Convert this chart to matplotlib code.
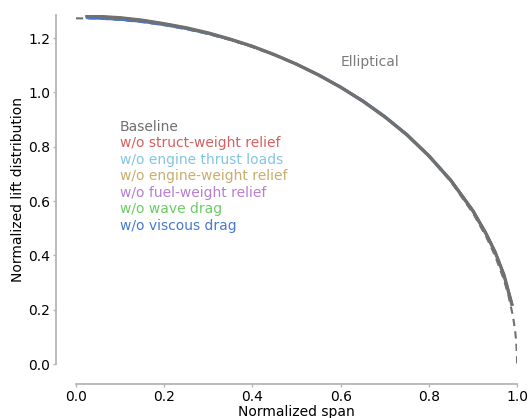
import matplotlib
matplotlib.use("Agg")
import matplotlib.pyplot as plt

# ---- data ----
span = [0.025, 0.05, 0.1, 0.15, 0.2, 0.25, 0.3, 0.35, 0.4, 0.45, 0.5, 0.55,
        0.6, 0.65, 0.7, 0.75, 0.8, 0.85, 0.9, 0.93, 0.95, 0.97, 0.988]

baseline = [1.282, 1.280, 1.275, 1.266, 1.253, 1.238, 1.219, 1.196, 1.170, 1.139, 1.104, 1.064,
            1.019, 0.968, 0.910, 0.844, 0.766, 0.675, 0.563, 0.478, 0.412, 0.328, 0.220]
no_struct = [1.281, 1.279, 1.274, 1.265, 1.252, 1.237, 1.218, 1.195, 1.169, 1.139, 1.104, 1.064,
             1.020, 0.969, 0.911, 0.845, 0.767, 0.676, 0.564, 0.479, 0.413, 0.329, 0.222]
no_thrust = [1.282, 1.280, 1.275, 1.266, 1.253, 1.238, 1.219, 1.196, 1.170, 1.139, 1.104, 1.064,
             1.019, 0.968, 0.910, 0.844, 0.766, 0.675, 0.563, 0.478, 0.412, 0.328, 0.220]
no_engine = [1.281, 1.279, 1.274, 1.266, 1.253, 1.238, 1.219, 1.196, 1.170, 1.139, 1.104, 1.064,
             1.019, 0.968, 0.910, 0.844, 0.766, 0.675, 0.563, 0.478, 0.412, 0.328, 0.220]
no_fuel = [1.280, 1.278, 1.273, 1.265, 1.252, 1.237, 1.219, 1.196, 1.170, 1.139, 1.104, 1.064,
           1.020, 0.969, 0.911, 0.845, 0.767, 0.676, 0.564, 0.479, 0.413, 0.329, 0.221]
no_wave = [1.282, 1.280, 1.275, 1.266, 1.253, 1.238, 1.219, 1.196, 1.170, 1.139, 1.104, 1.064,
           1.019, 0.968, 0.910, 0.844, 0.766, 0.675, 0.563, 0.478, 0.412, 0.328, 0.220]
no_viscous = [1.274, 1.272, 1.268, 1.260, 1.248, 1.234, 1.216, 1.194, 1.169, 1.139, 1.105, 1.066,
              1.021, 0.971, 0.913, 0.847, 0.769, 0.678, 0.566, 0.481, 0.414, 0.330, 0.221]

ell_span = [0.0, 0.05, 0.1, 0.15, 0.2, 0.25, 0.3, 0.35, 0.4, 0.45, 0.5, 0.55, 0.6, 0.65,
            0.7, 0.75, 0.8, 0.85, 0.9, 0.93, 0.95, 0.97, 0.98, 0.99, 0.995, 0.998, 1.0]
ell_lift = [1.273, 1.272, 1.267, 1.259, 1.248, 1.233, 1.215, 1.193, 1.167, 1.137, 1.103, 1.063,
            1.019, 0.968, 0.909, 0.842, 0.764, 0.671, 0.555, 0.468, 0.398, 0.310, 0.253,
            0.180, 0.127, 0.081, 0.0]

labels = ["Baseline", "w/o struct-weight relief", "w/o engine thrust loads",
          "w/o engine-weight relief", "w/o fuel-weight relief", "w/o wave drag",
          "w/o viscous drag"]
colors = ["#707070", "#d65f5f", "#82c6e2", "#c9ad6a", "#b77fcf", "#6acc64", "#4878d0"]
series = [baseline, no_struct, no_thrust, no_engine, no_fuel, no_wave, no_viscous]

# ---- figure ----
fig = plt.figure(figsize=(5.31, 4.18), dpi=100)
ax = fig.add_axes([0.143, 0.129, 0.831, 0.835])

ax.plot(ell_span, ell_lift, color="#707070", ls="--", lw=1.5, dashes=(3.5, 2.5), zorder=1)

# draw variants under the baseline, viscous drag just below it
for ys, c in zip(series[1:], colors[1:]):
    ax.plot(span, ys, color=c, lw=1.6, zorder=2)
ax.plot(span, baseline, color=colors[0], lw=2.4, zorder=3)

ax.text(0.6, 1.112, "Elliptical", color="#7a7a7a", fontsize=10, va="center")
for i, (lab, c) in enumerate(zip(labels, colors)):
    ax.text(0.1, 0.873 - 0.0605 * i, lab, color=c, fontsize=10, va="center")

ax.set_xlim(0, 1)
ax.set_ylim(0, 1.285)
ax.set_xticks([0, 0.2, 0.4, 0.6, 0.8, 1.0])
ax.set_yticks([0, 0.2, 0.4, 0.6, 0.8, 1.0, 1.2])
ax.set_xlabel("Normalized span", fontsize=10, labelpad=1)
ax.set_ylabel("Normalized lift distribution", fontsize=10, labelpad=2)

for s in ["top", "right"]:
    ax.spines[s].set_visible(False)
for s in ["left", "bottom"]:
    ax.spines[s].set_position(("outward", 14))
    ax.spines[s].set_color("#b5b5b5")
    ax.spines[s].set_linewidth(1.3)
ax.tick_params(colors="#b5b5b5", labelcolor="black", labelsize=10, length=2.5, width=1, pad=2)

fig.savefig("out.png", dpi=100)
